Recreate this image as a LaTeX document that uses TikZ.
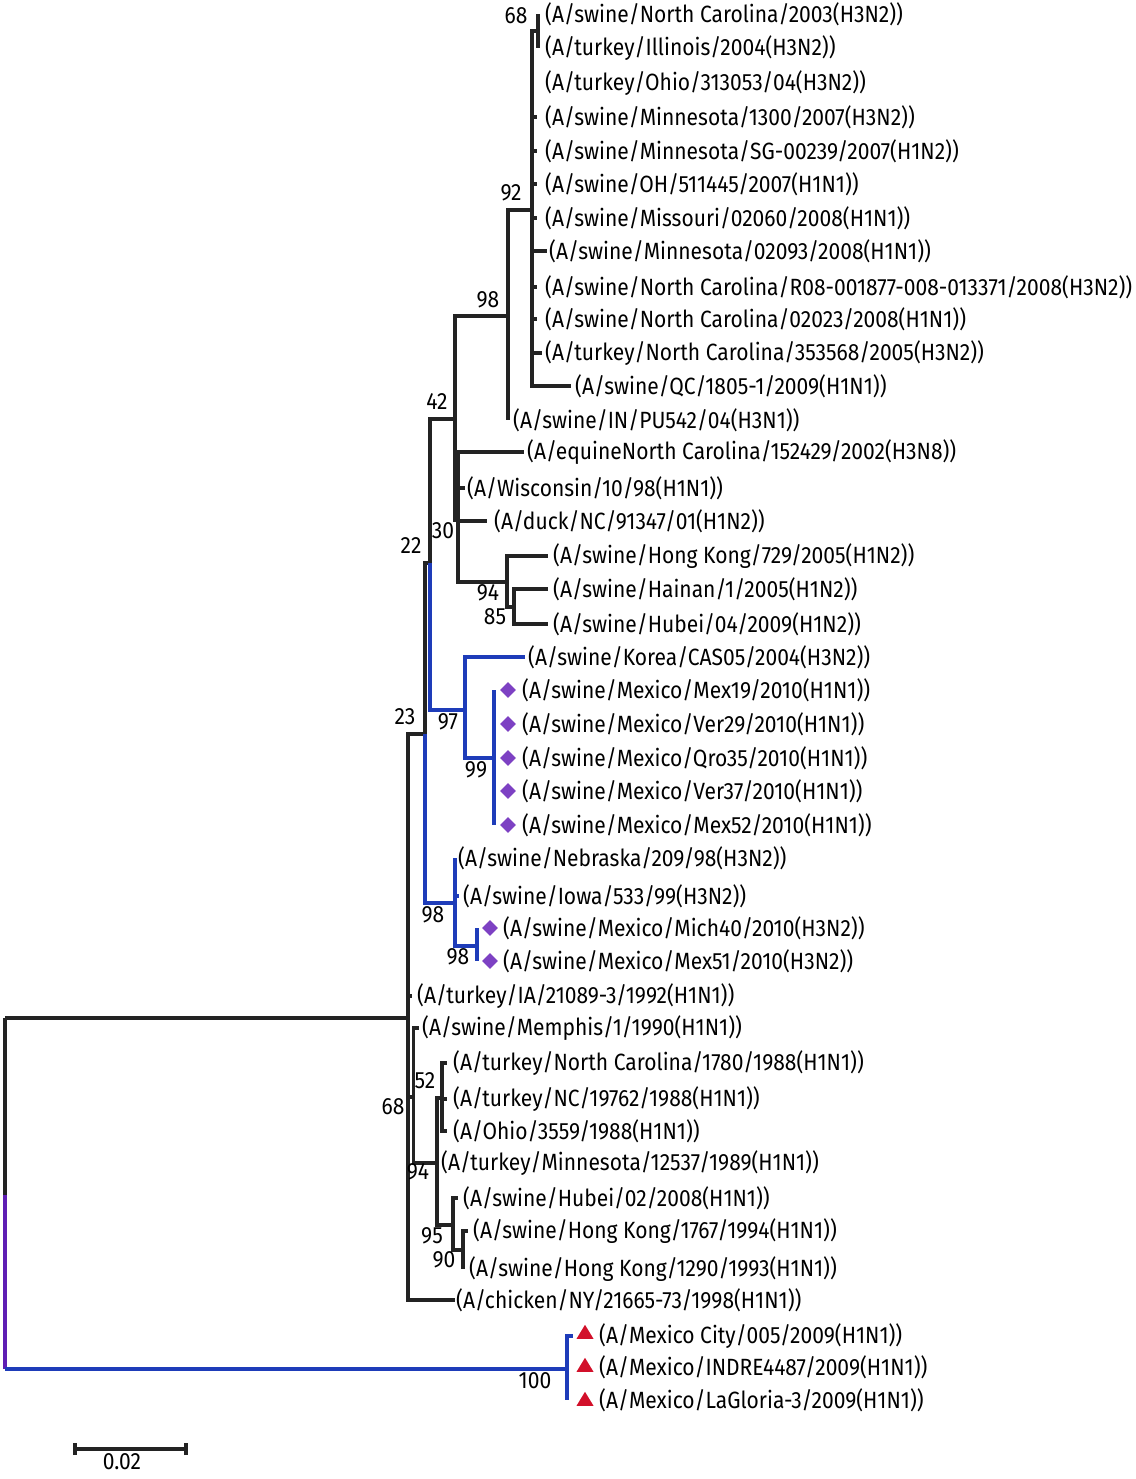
\documentclass[tikz,border=0pt]{standalone}
\usepackage{fontspec}
\setmainfont{Fira Sans}[FakeStretch=0.895]
\usetikzlibrary{positioning,shapes.geometric}

\definecolor{branchblack}{RGB}{35,35,35}
\definecolor{cladeblue}{RGB}{30,60,185}
\definecolor{rootpurple}{RGB}{95,30,180}
\definecolor{mexpurple}{RGB}{125,65,195}
\definecolor{pdmred}{RGB}{210,16,42}

\tikzset{
  br/.style={draw=branchblack, line width=3.2pt},
  brblue/.style={br, draw=cladeblue},
  brpurple/.style={br, draw=rootpurple},
  taxon/.style={anchor=west, inner sep=0pt, font=\fontsize{23.5}{27}\selectfont},
  boot/.style={inner sep=0pt, font=\fontsize{23.5}{27}\selectfont},
  swinemark/.style={diamond, fill=mexpurple, inner sep=0pt, minimum size=16pt},
  humanmark/.style={isosceles triangle, shape border rotate=90, isosceles triangle stretches,
    fill=pdmred, inner sep=0pt, minimum height=14pt, minimum width=17pt},
}

% tip coordinate + label node
\newcommand\taxonat[5]{%
  \coordinate (t#1) at (#2,#4);
  \node[taxon] (l#1) at (#3,#4) {#5};}

\begin{document}
\begin{tikzpicture}[x=1pt, y=-1pt]
\useasboundingbox (0,0) rectangle (1135,1479);

% --- Internal nodes ---
\coordinate (root) at (5,1018);
\coordinate (rootmid) at (5,1195);
\coordinate (nP) at (408,1018);
\coordinate (nQ) at (425,734);
\coordinate (nW) at (430,563);
\coordinate (n42) at (455,419);
\coordinate (n98a) at (508,316);
\coordinate (n92) at (532,210);
\coordinate (n68) at (538,31);
\coordinate (n30) at (458,520);
\coordinate (n94) at (507,582);
\coordinate (n85) at (514,607);
\coordinate (n97) at (465,710);
\coordinate (n99) at (494,758);
\coordinate (n98b) at (455,903);
\coordinate (n98c) at (477,946);
\coordinate (nR) at (413.5,1097);
\coordinate (nS) at (437,1163);
\coordinate (nT) at (442,1098);
\coordinate (nU) at (453,1225);
\coordinate (nV) at (463,1250);
\coordinate (nZ) at (567,1369);

% --- Taxa ---
\taxonat{1}{538}{545}{14}{(A/swine/North Carolina/2003(H3N2))}
\taxonat{2}{538}{545}{48}{(A/turkey/Illinois/2004(H3N2))}
\taxonat{3}{532}{545}{83}{(A/turkey/Ohio/313053/04(H3N2))}
\taxonat{4}{537}{545}{117}{(A/swine/Minnesota/1300/2007(H3N2))}
\taxonat{5}{537}{545}{151}{(A/swine/Minnesota/SG-00239/2007(H1N2))}
\taxonat{6}{537}{545}{184}{(A/swine/OH/511445/2007(H1N1))}
\taxonat{7}{537}{545}{218}{(A/swine/Missouri/02060/2008(H1N1))}
\taxonat{8}{547}{549}{251}{(A/swine/Minnesota/02093/2008(H1N1))}
\taxonat{9}{537}{545}{287}{(A/swine/North Carolina/R08-001877-008-013371/2008(H3N2))}
\taxonat{10}{537}{545}{319}{(A/swine/North Carolina/02023/2008(H1N1))}
\taxonat{11}{542}{545}{353}{(A/turkey/North Carolina/353568/2005(H3N2))}
\taxonat{12}{571}{575}{386}{(A/swine/QC/1805-1/2009(H1N1))}
\taxonat{13}{508}{513}{420}{(A/swine/IN/PU542/04(H3N1))}
\taxonat{14}{524}{527}{452}{(A/equineNorth Carolina/152429/2002(H3N8))}
\taxonat{15}{465}{467}{488}{(A/Wisconsin/10/98(H1N1))}
\taxonat{16}{487}{494}{521}{(A/duck/NC/91347/01(H1N2))}
\taxonat{17}{548}{553}{556}{(A/swine/Hong Kong/729/2005(H1N2))}
\taxonat{18}{548}{553}{589}{(A/swine/Hainan/1/2005(H1N2))}
\taxonat{19}{548}{553}{624}{(A/swine/Hubei/04/2009(H1N2))}
\taxonat{20}{525}{528}{657}{(A/swine/Korea/CAS05/2004(H3N2))}
\taxonat{21}{494}{522}{690}{(A/swine/Mexico/Mex19/2010(H1N1))}
\taxonat{22}{494}{522}{724}{(A/swine/Mexico/Ver29/2010(H1N1))}
\taxonat{23}{494}{522}{758}{(A/swine/Mexico/Qro35/2010(H1N1))}
\taxonat{24}{494}{522}{791}{(A/swine/Mexico/Ver37/2010(H1N1))}
\taxonat{25}{494}{522}{825}{(A/swine/Mexico/Mex52/2010(H1N1))}
\taxonat{26}{455}{458}{858}{(A/swine/Nebraska/209/98(H3N2))}
\taxonat{27}{459}{463}{896}{(A/swine/Iowa/533/99(H3N2))}
\taxonat{28}{477}{503}{928}{(A/swine/Mexico/Mich40/2010(H3N2))}
\taxonat{29}{477}{503}{961}{(A/swine/Mexico/Mex51/2010(H3N2))}
\taxonat{30}{412}{417}{996}{(A/turkey/IA/21089-3/1992(H1N1))}
\taxonat{31}{419}{422}{1028}{(A/swine/Memphis/1/1990(H1N1))}
\taxonat{32}{447}{453}{1063}{(A/turkey/North Carolina/1780/1988(H1N1))}
\taxonat{33}{447}{453}{1099}{(A/turkey/NC/19762/1988(H1N1))}
\taxonat{34}{447}{453}{1131}{(A/Ohio/3559/1988(H1N1))}
\taxonat{35}{437}{441}{1163}{(A/turkey/Minnesota/12537/1989(H1N1))}
\taxonat{36}{458}{463}{1198}{(A/swine/Hubei/02/2008(H1N1))}
\taxonat{37}{468}{473}{1231}{(A/swine/Hong Kong/1767/1994(H1N1))}
\taxonat{38}{463}{469}{1269}{(A/swine/Hong Kong/1290/1993(H1N1))}
\taxonat{39}{455}{456}{1300}{(A/chicken/NY/21665-73/1998(H1N1))}
\taxonat{40}{573}{599}{1336}{(A/Mexico City/005/2009(H1N1))}
\taxonat{41}{567}{599}{1367}{(A/Mexico/INDRE4487/2009(H1N1))}
\taxonat{42}{567}{599}{1400}{(A/Mexico/LaGloria-3/2009(H1N1))}

% --- Markers ---
\foreach \i/\y in {21/690, 22/724, 23/758, 24/791, 25/825}
  \node[swinemark] (m\i) at (508,\y) {};
\foreach \i/\y in {28/928, 29/961}
  \node[swinemark] (m\i) at (490,\y) {};
\foreach \i/\y in {40/1334, 41/1367, 42/1401}
  \node[humanmark] (m\i) at (585,\y) {};

% --- Branches: root ---
\draw[br] (root) -- (nP);
\draw[br] (root) -- (rootmid);
\draw[brpurple] (rootmid) -- (rootmid |- nZ);
\draw[brblue] (rootmid |- nZ) -- (nZ);
\foreach \c in {40,41,42} \draw[brblue] (nZ) |- (t\c);

% upper clade
\draw[br] (nP) |- (nQ);
\foreach \c in {t30,nR,t39} \draw[br] (nP) |- (\c);
\draw[br] (nQ) |- (nW);
\draw[brblue] (nQ) |- (n98b);
\draw[br] (nW) |- (n42);
\draw[brblue] (nW) |- (n97);
\draw[br] (n42) |- (n98a);
\draw[br] (n42) |- (n30);
\draw[br] (n98a) |- (n92);
\draw[br] (n98a) |- (t13);
\draw[br] (n92) |- (n68);
\foreach \c in {3,...,12} \draw[br] (n92) |- (t\c);
\foreach \c in {1,2} \draw[br] (n68) |- (t\c);
\foreach \c in {t14,t15,t16,n94} \draw[br] (n30) |- (\c);
\draw[br] (n94) |- (t17);
\draw[br] (n94) |- (n85);
\foreach \c in {18,19} \draw[br] (n85) |- (t\c);

% blue clades
\draw[brblue] (n97) |- (t20);
\draw[brblue] (n97) |- (n99);
\foreach \c in {21,...,25} \draw[brblue] (n99) |- (t\c);
\foreach \c in {t26,t27,n98c} \draw[brblue] (n98b) |- (\c);
\foreach \c in {28,29} \draw[brblue] (n98c) |- (t\c);

% lower clade
\draw[br] (nR) |- (t31);
\draw[br] (nR) |- (nS);
\foreach \c in {nT,t35,nU} \draw[br] (nS) |- (\c);
\foreach \c in {32,33,34} \draw[br] (nT) |- (t\c);
\draw[br] (nU) |- (t36);
\draw[br] (nU) |- (nV);
\foreach \c in {37,38} \draw[br] (nV) |- (t\c);

% --- Bootstrap values ---
\node[boot] (b68a) at (516,16) {68};
\node[boot] (b92) at (511,193) {92};
\node[boot] (b98a) at (488,300) {98};
\node[boot] (b42) at (437,402) {42};
\node[boot] (b30) at (443,531) {30};
\node[boot] (b22) at (411,546) {22};
\node[boot] (b94a) at (488,593) {94};
\node[boot] (b85) at (495,617) {85};
\node[boot] (b23) at (405,717) {23};
\node[boot] (b97) at (448,722) {97};
\node[boot] (b99) at (476,770) {99};
\node[boot] (b98b) at (433,915) {98};
\node[boot] (b98c) at (458,957) {98};
\node[boot] (b52) at (425,1081) {52};
\node[boot] (b68b) at (393,1107) {68};
\node[boot] (b94b) at (418,1172) {94};
\node[boot] (b95) at (432,1236) {95};
\node[boot] (b90) at (444,1260) {90};
\node[boot] (b100) at (535,1381) {100};

% --- Scale bar ---
\coordinate (sbl) at (75,1449);
\coordinate (sbr) at (186,1449);
\draw[br] (sbl) -- (sbr);
\draw[br] ([yshift=-6pt]sbl) -- ([yshift=6pt]sbl);
\draw[br] ([yshift=-6pt]sbr) -- ([yshift=6pt]sbr);
\node[boot] (sblab) at (122,1462) {0.02};

\end{tikzpicture}
\end{document}
